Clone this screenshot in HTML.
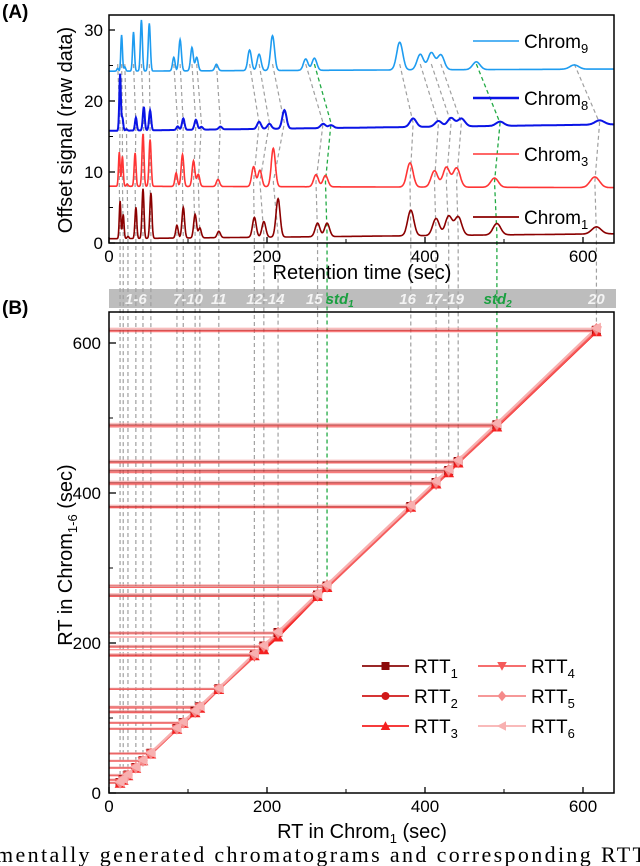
<!DOCTYPE html>
<html><head><meta charset="utf-8"><style>
html,body{margin:0;padding:0;background:#fff;}
svg{display:block;font-family:"Liberation Sans",Arial,sans-serif;}
</style></head><body>
<svg id="fig" width="640" height="866" viewBox="0 0 640 866" xmlns="http://www.w3.org/2000/svg">
<g id="bg"></g>
<g id="dash"></g>
<g id="top"></g>
<g id="bot"></g>
<g id="ann"></g>
</svg>
<script>
// ---- data ----
const compounds = ["1","2","3","4","5","6","7","8","9","10","11","12","13","14","15","std1","16","17","18","19","std2","20"];
const ch1RT = [14,18,24,34,43,53,86,94,109,115,139,184,196,214,264,276,382,414,430,442,491,617];
const ch1H  = [5.3,3.4,0.3,4.4,7.0,6.4,1.8,4.3,3.3,1.4,0.9,2.8,2.2,5.4,1.9,1.9,3.6,2.4,2.7,2.6,1.6,1.0];
const ch3RT = [13,17,23,33,43,52,85,93,107,113,138,183,191,208,262,274,381,412,427,440,488,615];
const ch3H  = [4.8,4.2,0.3,4.7,7.4,6.6,1.9,4.5,3.6,1.7,1.0,2.8,2.3,5.4,1.7,1.6,3.4,2.3,2.8,2.7,1.3,1.5];
const ch8RT = [14,17,22,34,44,52,87,94,110,117,141,190,203,222,271,281,385,417,433,446,495,621];
const ch8H  = [8.0,1.8,0.2,1.8,3.3,2.8,0.5,1.6,1.4,0.4,0.4,1.0,0.7,2.6,0.6,0.4,1.2,0.8,1.2,1.1,0.6,0.6];
const ch9RT = [11,16,20,31,41,51,82,90,105,111,136,178,190,207,249,260,368,394,408,420,465,589];
const ch9H  = [0.4,5.1,0.6,5.5,7.2,6.7,1.9,4.4,3.3,1.9,0.9,2.9,2.3,4.9,1.6,1.7,3.9,2.2,2.4,2.1,1.1,0.6];
const baseStart = [0.6, 8.0, 15.8, 24.2];
const baseEnd   = [1.3, 7.8, 16.7, 24.5];
const RTT1 = [14,18,24,34,43,53,86,94,109,115,139,184,196,214,264,276,382,414,430,442,491,617];
const RTT2 = [14,18,24,34,43,53,86,94,108,115,139,184,195,213,263,276,381,413,429,441,490,617];
const RTT3 = [13,17,23,33,43,52,85,93,107,113,138,183,191,208,262,274,381,412,427,440,488,615];
const RTT4 = [13,17,23,33,42,52,85,93,107,114,138,182,194,212,262,274,380,411,428,440,489,616];
const RTT5 = [14,18,24,34,43,53,86,94,109,115,139,185,196,214,265,277,383,415,431,443,492,619];
const RTT6 = [15,19,25,35,44,54,87,95,110,116,140,186,197,215,266,278,384,416,432,444,493,620];
const topYTicks = [0,10,20,30];
const xTicks = [0,200,400,600];
const botYTicks = [0,200,400,600];
const barLabels = ["1-6","7-10","11","12-14","15","std1","16","17-19","std2","20"];
const barLabelRT = [34,100,139,198,260,292,378,425,492,617];

// ---- scales ----
const NS="http://www.w3.org/2000/svg";
const X0=109,X1=614;
const xS=t=>X0+t*0.79;
const yT=v=>243-v*7.1;
const yB=v=>793-v*0.75;
function mk(tag,attrs,parent,text){const e=document.createElementNS(NS,tag);for(const k in attrs)e.setAttribute(k,attrs[k]);if(text!==undefined)e.textContent=text;parent.appendChild(e);return e;}
const gDash=document.getElementById('dash'),gTop=document.getElementById('top'),gBot=document.getElementById('bot'),gAnn=document.getElementById('ann'),gBg=document.getElementById('bg');

let bar=mk('rect',{x:X0,y:289,width:X1-X0+2,height:19,fill:'#bdbdbd'},gBg);



compounds.forEach((c,i)=>{
  const std=c.startsWith('std');
  const pts=[[xS(ch9RT[i]),yT(25.2)],[xS(ch8RT[i]),yT(16.9)],[xS(ch3RT[i]),yT(8.6)],[xS(ch1RT[i]),yT(1.2)],[xS(ch1RT[i]),yB(RTT1[i])]];
  const p=mk('polyline',{points:pts.map(q=>q.join(',')).join(' '),fill:'none',stroke:std?'#22aa44':'#a0a0a0','stroke-width':std?1.3:1.2,'stroke-dasharray':'4,3'},gDash);
  
  
});

const chromSets=[[ch1RT,ch1H,'#8b0000',1.6,'chrom-1'],[ch3RT,ch3H,'#ff3535',1.6,'chrom-3'],[ch8RT,ch8H,'#0a14e6',2.0,'chrom-8'],[ch9RT,ch9H,'#1e9cf0',1.6,'chrom-9']];
chromSets.forEach((s,k)=>{
  let d='';
  for(let t=0;t<=639;t+=0.5){
    let v=baseStart[k]+(baseEnd[k]-baseStart[k])*t/639;
    s[0].forEach((c,j)=>{const sg=0.9+c*0.008;v+=s[1][j]*Math.exp(-((t-c)*(t-c))/(2*sg*sg));});
    d+=(t===0?'M':'L')+xS(t).toFixed(1)+','+yT(v).toFixed(1);
  }
  const p=mk('path',{d:d,fill:'none',stroke:s[2],'stroke-width':s[3]},gTop);
  
  
});

let f1=mk('rect',{x:X0,y:15,width:X1-X0,height:228,fill:'none',stroke:'#000','stroke-width':1.5},gTop);


topYTicks.forEach(v=>{mk('line',{x1:X0,x2:X0+6,y1:yT(v),y2:yT(v),stroke:'#000','stroke-width':1.3},gTop);
  let t=mk('text',{x:X0-6,y:yT(v)+6,'text-anchor':'end','font-size':17},gTop,String(v));
  
  });
[5,15,25].forEach(v=>mk('line',{x1:X0,x2:X0+4,y1:yT(v),y2:yT(v),stroke:'#000','stroke-width':1},gTop));
xTicks.forEach(v=>{mk('line',{x1:xS(v),x2:xS(v),y1:243,y2:237,stroke:'#000','stroke-width':1.3},gTop);
  let t=mk('text',{x:xS(v),y:262,'text-anchor':'middle','font-size':17},gTop,String(v));
  
  });
[100,300,500].forEach(v=>mk('line',{x1:xS(v),x2:xS(v),y1:243,y2:239,stroke:'#000','stroke-width':1},gTop));

const legA=[['Chrom','9','#1e9cf0',1.6,41],['Chrom','8','#0a14e6',2.4,98],['Chrom','3','#ff3535',1.6,154],['Chrom','1','#8b0000',1.8,217]];
legA.forEach(l=>{
  mk('line',{x1:473,x2:519,y1:l[4],y2:l[4],stroke:l[2],'stroke-width':l[3]},gTop);
  const t=mk('text',{x:524,y:l[4]+7,'font-size':19},gTop);
  
  
  mk('tspan',{},t,l[0]);mk('tspan',{'font-size':13,dy:5},t,l[1]);
});

const rtts=[RTT1,RTT2,RTT3,RTT4,RTT5,RTT6];
const cols=['#8b0a0a','#d01818','#f42020','#f55a5a','#f58a8a','#f8b0b0'];
rtts.forEach((arr,k)=>{arr.forEach((v,i)=>{
  const l=mk('line',{x1:X0,x2:xS(ch1RT[i]),y1:yB(v),y2:yB(v),stroke:cols[k],'stroke-width':1,opacity:0.6},gBot);
  
  
});});
function marker(k,x,y,g,s){
  const c=cols[k];let e;
  if(k===0)e=mk('rect',{x:x-s,y:y-s,width:2*s,height:2*s,fill:c},g);
  else if(k===1)e=mk('circle',{cx:x,cy:y,r:s,fill:c},g);
  else if(k===2)e=mk('polygon',{points:`${x},${y-s*1.2} ${x-s*1.2},${y+s} ${x+s*1.2},${y+s}`,fill:c},g);
  else if(k===3)e=mk('polygon',{points:`${x},${y+s*1.2} ${x-s*1.2},${y-s} ${x+s*1.2},${y-s}`,fill:c},g);
  else if(k===4)e=mk('polygon',{points:`${x},${y-s*1.3} ${x+s*1.1},${y} ${x},${y+s*1.3} ${x-s*1.1},${y}`,fill:c},g);
  else e=mk('polygon',{points:`${x-s*1.3},${y} ${x+s},${y-s*1.2} ${x+s},${y+s*1.2}`,fill:c},g);
  return e;
}
rtts.forEach((arr,k)=>{
  const p=mk('polyline',{points:arr.map((v,i)=>xS(ch1RT[i])+','+yB(v)).join(' '),fill:'none',stroke:cols[k],'stroke-width':2.2},gBot);
  
  
});
rtts.forEach((arr,k)=>{arr.forEach((v,i)=>{
  const m=marker(k,xS(ch1RT[i]),yB(v),gBot,4.5);
  
  
});});

let f2=mk('rect',{x:X0,y:312,width:X1-X0,height:481,fill:'none',stroke:'#000','stroke-width':1.5},gBot);


botYTicks.forEach(v=>{mk('line',{x1:X0,x2:X0+7,y1:yB(v),y2:yB(v),stroke:'#000','stroke-width':1.3},gBot);
  let t=mk('text',{x:X0-8,y:yB(v)+6,'text-anchor':'end','font-size':17},gBot,String(v));
  
  });
[100,300,500].forEach(v=>mk('line',{x1:X0,x2:X0+4,y1:yB(v),y2:yB(v),stroke:'#000','stroke-width':1},gBot));
xTicks.forEach(v=>{mk('line',{x1:xS(v),x2:xS(v),y1:793,y2:787,stroke:'#000','stroke-width':1.3},gBot);
  let t=mk('text',{x:xS(v),y:812,'text-anchor':'middle','font-size':17},gBot,String(v));
  
  });
[100,300,500].forEach(v=>mk('line',{x1:xS(v),x2:xS(v),y1:793,y2:789,stroke:'#000','stroke-width':1},gBot));

const legRows=[666,696,726],legCols=[[362,409,414],[478,526,531]];
for(let k=0;k<6;k++){
  const c=legCols[Math.floor(k/3)],y=legRows[k%3];
  mk('line',{x1:c[0],x2:c[1],y1:y,y2:y,stroke:cols[k],'stroke-width':1.8},gBot);
  marker(k,(c[0]+c[1])/2,y,gBot,4);
  const t=mk('text',{x:c[2],y:y+7,'font-size':19},gBot);
  
  
  mk('tspan',{},t,'RTT');mk('tspan',{'font-size':13,dy:5},t,String(k+1));
}

barLabels.forEach((s,i)=>{
  const std=s.startsWith('std');
  const t=mk('text',{x:xS(barLabelRT[i]),y:304,'text-anchor':'middle','font-size':15,'font-style':'italic','font-weight':std?'bold':'600',fill:std?'#1aa040':'#f4f4f4'},gAnn);
  
  
  if(std){mk('tspan',{},t,'std');mk('tspan',{'font-size':10,dy:3},t,s.slice(3));}else t.textContent=s;
});
</script>
<script>
(function(){
const NS="http://www.w3.org/2000/svg",svg=document.getElementById('fig');
function T(attrs,txt,name){const e=document.createElementNS(NS,'text');for(const k in attrs)e.setAttribute(k,attrs[k]);e.innerHTML=txt;


svg.appendChild(e);}
T({x:2,y:18,'font-size':19,'font-weight':'bold'},'(A)','panel-a-label');
T({x:2,y:314,'font-size':19,'font-weight':'bold'},'(B)','panel-b-label');
T({x:362,y:279,'text-anchor':'middle','font-size':20},'Retention time (sec)','x-axis-title-a');
T({x:362,y:838,'text-anchor':'middle','font-size':20},'RT in Chrom<tspan font-size="13" dy="5">1</tspan><tspan dy="-5"> (sec)</tspan>','x-axis-title-b');
T({x:0,y:0,'text-anchor':'middle','font-size':20,transform:'translate(72,130) rotate(-90)'},'Offset signal (raw data)','y-axis-title-a');
T({x:0,y:0,'text-anchor':'middle','font-size':20,transform:'translate(72,555) rotate(-90)'},'RT in Chrom<tspan font-size="13" dy="5">1-6</tspan><tspan dy="-5"> (sec)</tspan>','y-axis-title-b');
T({x:-4,y:862,'font-size':22,'font-family':'Liberation Serif, serif',textLength:650,lengthAdjust:'spacing'},'mentally generated chromatograms and corresponding RTT','caption-text');
})();
</script>
</body></html>
